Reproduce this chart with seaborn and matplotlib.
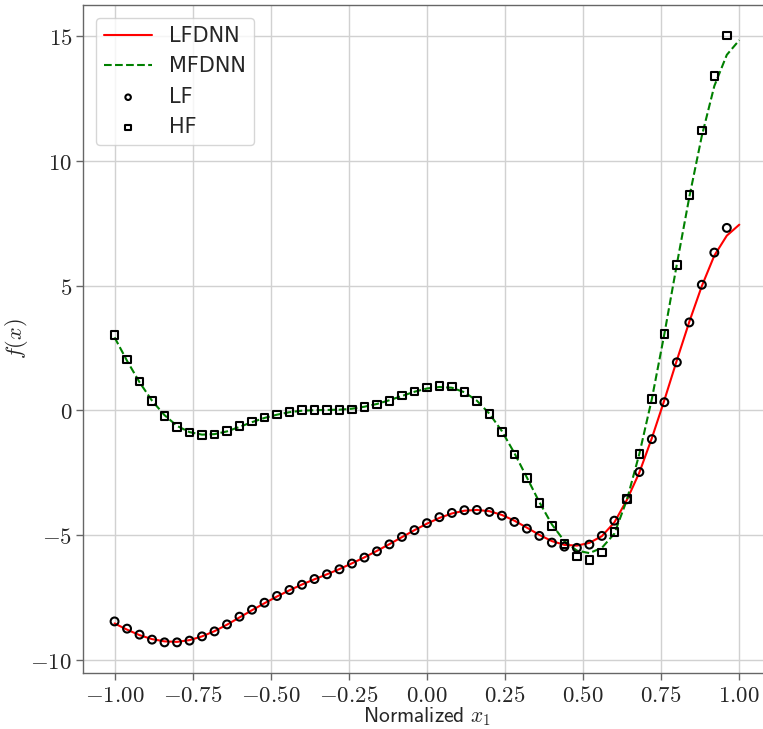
import numpy as np
import pandas as pd
import seaborn as sns
import matplotlib
matplotlib.use("Agg")
import matplotlib.pyplot as plt
from matplotlib.ticker import FixedLocator, FuncFormatter

# Sample locations of the low- and high-fidelity data
x_samples = [-1.00, -0.96, -0.92, -0.88, -0.84, -0.80, -0.76, -0.72, -0.68, -0.64,
             -0.60, -0.56, -0.52, -0.48, -0.44, -0.40, -0.36, -0.32, -0.28, -0.24,
             -0.20, -0.16, -0.12, -0.08, -0.04, 0.00, 0.04, 0.08, 0.12, 0.16,
             0.20, 0.24, 0.28, 0.32, 0.36, 0.40, 0.44, 0.48, 0.52, 0.56,
             0.60, 0.64, 0.68, 0.72, 0.76, 0.80, 0.84, 0.88, 0.92, 0.96]

lf_values = [-8.47, -8.76, -9.00, -9.20, -9.31, -9.31, -9.24, -9.07, -8.87, -8.59,
             -8.28, -8.00, -7.72, -7.45, -7.21, -7.00, -6.77, -6.58, -6.38, -6.15,
             -5.91, -5.66, -5.38, -5.08, -4.81, -4.53, -4.29, -4.12, -4.01, -4.00,
             -4.08, -4.23, -4.48, -4.75, -5.04, -5.31, -5.47, -5.52, -5.39, -5.04,
             -4.43, -3.57, -2.48, -1.16, 0.32, 1.92, 3.52, 5.03, 6.32, 7.31]

hf_values = [3.01, 2.03, 1.15, 0.36, -0.24, -0.67, -0.89, -1.00, -0.97, -0.83,
             -0.63, -0.45, -0.29, -0.17, -0.08, 0.00, 0.00, 0.00, 0.00, 0.03,
             0.13, 0.23, 0.37, 0.59, 0.75, 0.91, 0.97, 0.95, 0.73, 0.37,
             -0.16, -0.88, -1.77, -2.72, -3.71, -4.64, -5.36, -5.87, -6.00, -5.71,
             -4.89, -3.57, -1.76, 0.45, 3.05, 5.83, 8.63, 11.21, 13.41, 15.03]

# Network predictions evaluated on the sample grid plus the right end point
x_pred = x_samples + [1.00]

lfdnn_values = [-8.55, -8.80, -9.02, -9.18, -9.27, -9.29, -9.22, -9.07, -8.86, -8.60,
                -8.31, -8.02, -7.74, -7.47, -7.22, -6.99, -6.78, -6.58, -6.37, -6.14,
                -5.90, -5.64, -5.37, -5.09, -4.81, -4.55, -4.32, -4.14, -4.03, -4.00,
                -4.05, -4.20, -4.43, -4.71, -5.00, -5.25, -5.40, -5.43, -5.32, -5.05,
                -4.50, -3.60, -2.50, -1.12, 0.40, 2.00, 3.55, 4.98, 6.20, 7.00, 7.44]

mfdnn_values = [2.92, 1.98, 1.12, 0.38, -0.20, -0.63, -0.88, -0.98, -0.96, -0.85,
                -0.67, -0.48, -0.31, -0.18, -0.08, -0.02, 0.00, 0.01, 0.02, 0.06,
                0.14, 0.25, 0.40, 0.57, 0.74, 0.87, 0.93, 0.90, 0.72, 0.38,
                -0.14, -0.84, -1.72, -2.70, -3.69, -4.58, -5.25, -5.63, -5.73, -5.52,
                -4.95, -3.60, -1.75, 0.45, 3.05, 5.85, 8.55, 11.00, 13.00, 14.25, 14.84]

x_ticks = [-1.00, -0.75, -0.50, -0.25, 0.00, 0.25, 0.50, 0.75, 1.00]
y_ticks = [-10, -5, 0, 5, 10, 15]

sns.set_style("whitegrid")
plt.rcParams["font.family"] = ["DejaVu Sans"]
plt.rcParams["mathtext.fontset"] = "cm"

samples = pd.DataFrame({"x": x_samples, "lf": lf_values, "hf": hf_values})
preds = pd.DataFrame({"x": x_pred, "lfdnn": lfdnn_values, "mfdnn": mfdnn_values})

fig = plt.figure(figsize=(7.63, 7.29), dpi=100)
ax = fig.add_axes([0.1092, 0.0772, 0.9007, 0.9159])

sns.lineplot(data=preds, x="x", y="lfdnn", color="red", linewidth=1.5,
             label="LFDNN", ax=ax)
sns.lineplot(data=preds, x="x", y="mfdnn", color="green", linewidth=1.5,
             linestyle="--", label="MFDNN", ax=ax)
sns.scatterplot(data=samples, x="x", y="lf", marker="o", s=32,
                facecolor="none", edgecolor="black", linewidth=1.5,
                label="LF", ax=ax, zorder=3)
sns.scatterplot(data=samples, x="x", y="hf", marker="s", s=30,
                facecolor="none", edgecolor="black", linewidth=1.5,
                label="HF", ax=ax, zorder=3)

ax.xaxis.set_major_locator(FixedLocator(x_ticks))
ax.yaxis.set_major_locator(FixedLocator(y_ticks))
ax.xaxis.set_major_formatter(FuncFormatter(lambda v, p: f"${v:.2f}$"))
ax.yaxis.set_major_formatter(FuncFormatter(lambda v, p: f"${v:.0f}$"))
ax.tick_params(axis="both", which="major", labelsize=16.5, length=5, width=1,
               color="0.4", pad=3, left=True, bottom=True)

ax.grid(True, color="0.82", linewidth=1.0)
for side in ["left", "bottom", "top", "right"]:
    ax.spines[side].set_color("0.4")
    ax.spines[side].set_linewidth(1.0)

ax.set_xlabel(r"$\mathsf{Normalized}\ x_1$", fontsize=15.5)
ax.set_ylabel(r"$f(x)$", fontsize=16)
ax.xaxis.set_label_coords(0.5, -0.049)
ax.yaxis.set_label_coords(-0.077, 0.5)

leg = ax.legend(loc="upper left", fontsize=15, markerscale=0.7,
                handlelength=2.3, frameon=True, fancybox=True,
                framealpha=0.8, edgecolor="0.8", borderaxespad=0.6)

fig.savefig("out.png", dpi=100)
